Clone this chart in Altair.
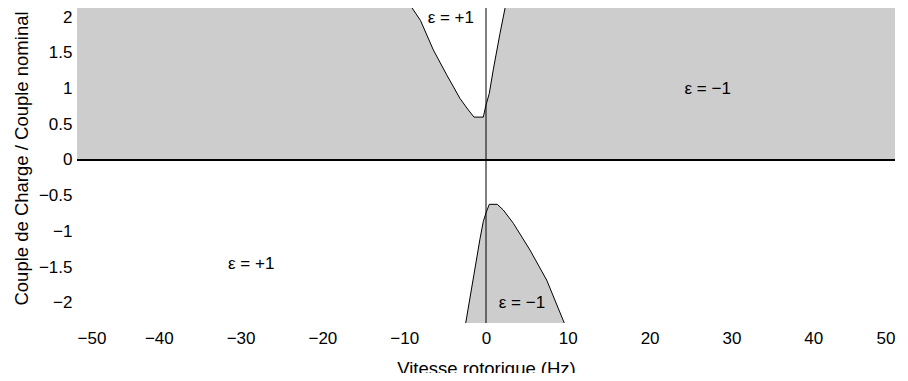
import altair as alt
import pandas as pd

# Axis ranges (visible window)
Y_TOP = 2.126
Y_BOT = -2.28
X_MIN, X_MAX = -50, 50

# Upper white region boundary (epsilon = +1 zone above the axis)
upper_x = [-9.7, -8.0, -6.44, -4.8, -3.18, -2.16, -1.47, -0.33, 0.0, 0.4, 0.9, 1.71, 2.53]
upper_y = [2.24, 1.95, 1.54, 1.19, 0.86, 0.70, 0.60, 0.60, 0.77, 0.93, 1.27, 1.77, 2.24]

# Lower grey region boundary (epsilon = -1 zone below the axis)
lower_x = [-2.48, -1.5, -0.73, -0.33, 0.0, 0.40, 1.38, 2.12, 3.34, 5.38, 7.42, 9.57]
lower_y = [-2.28, -1.62, -1.10, -0.86, -0.74, -0.62, -0.62, -0.70, -0.885, -1.26, -1.68, -2.28]

# Annotations
ann_x = [-4.3, 27.1, -28.7, 4.4]
ann_y = [1.99, 1.0, -1.45, -2.0]
ann_t = ["ε = +1", "ε = −1", "ε = +1", "ε = −1"]

x_ticks = [-50, -40, -30, -20, -10, 0, 10, 20, 30, 40, 50]
y_ticks = [-2, -1.5, -1, -0.5, 0, 0.5, 1, 1.5, 2]

GREY = "#cdcdcd"
FONT = "Liberation Sans"

up = pd.DataFrame({"x": upper_x, "y": upper_y, "top": Y_TOP})
lo = pd.DataFrame({"x": lower_x, "y": lower_y, "bot": Y_BOT})
ann = pd.DataFrame({"x": ann_x, "y": ann_y, "t": ann_t})
band = pd.DataFrame({"x": [X_MIN], "x2": [X_MAX], "y": [0.0], "y2": [Y_TOP]})

xs = alt.Scale(domain=[X_MIN, X_MAX], nice=False, zero=False)
ys = alt.Scale(domain=[Y_BOT, Y_TOP], nice=False, zero=False)

xaxis = alt.Axis(values=x_ticks, title="Vitesse rotorique (Hz)",
                 labelExpr="format(datum.value, '~g')",
                 grid=False, domain=False, ticks=False, labelPadding=7, labelOverlap=False,
                 labelFontSize=17, titleFontSize=18.5, titleY=36, titleBaseline="top")
yaxis = alt.Axis(values=y_ticks, title="Couple de Charge / Couple nominal",
                 labelExpr="format(datum.value, '~g')",
                 grid=False, domain=False, ticks=False, labelPadding=5, labelOverlap=False,
                 labelFontSize=17, titleFontSize=18.5, titleX=-46, titleY=150)

base_rect = alt.Chart(band).mark_rect(color=GREY, clip=True).encode(
    x=alt.X("x:Q", scale=xs, axis=xaxis),
    x2="x2:Q",
    y=alt.Y("y:Q", scale=ys, axis=yaxis),
    y2="y2:Q",
)

white = alt.Chart(up).mark_area(color="white", clip=True, opacity=1).encode(
    x=alt.X("x:Q", scale=xs, axis=xaxis), y=alt.Y("y:Q", scale=ys, axis=yaxis), y2="top:Q"
)
white_line = alt.Chart(up).mark_line(color="black", strokeWidth=1, clip=True).encode(
    x=alt.X("x:Q", scale=xs, axis=xaxis), y=alt.Y("y:Q", scale=ys, axis=yaxis)
)

grey_lo = alt.Chart(lo).mark_area(color=GREY, clip=True, opacity=1).encode(
    x=alt.X("x:Q", scale=xs, axis=xaxis), y=alt.Y("y:Q", scale=ys, axis=yaxis), y2="bot:Q"
)
grey_line = alt.Chart(lo).mark_line(color="black", strokeWidth=1, clip=True).encode(
    x=alt.X("x:Q", scale=xs, axis=xaxis), y=alt.Y("y:Q", scale=ys, axis=yaxis)
)

hline = alt.Chart(pd.DataFrame({"y": [0.0]})).mark_rule(color="black", strokeWidth=2).encode(
    y=alt.Y("y:Q", scale=ys, axis=yaxis)
)
vline = alt.Chart(pd.DataFrame({"x": [0.0]})).mark_rule(color="black", strokeWidth=1).encode(
    x=alt.X("x:Q", scale=xs, axis=xaxis)
)

texts = alt.Chart(ann).mark_text(font=FONT, fontSize=17, color="black").encode(
    x=alt.X("x:Q", scale=xs, axis=xaxis), y=alt.Y("y:Q", scale=ys, axis=yaxis), text="t:N"
)

chart = alt.layer(base_rect, white, white_line, grey_lo, grey_line, hline, vline, texts).properties(
    width=818, height=315,
    autosize=alt.AutoSizeParams(type="none"),
    padding={"left": 69, "top": 0, "right": 5, "bottom": 50},
).configure_view(stroke=None).configure_axis(
    labelFont=FONT, titleFont=FONT, labelColor="black", titleColor="black",
    titleFontWeight="normal", labelOverlap=False,
)

chart.save("out.html", embed_options={"renderer": "svg", "actions": False})
